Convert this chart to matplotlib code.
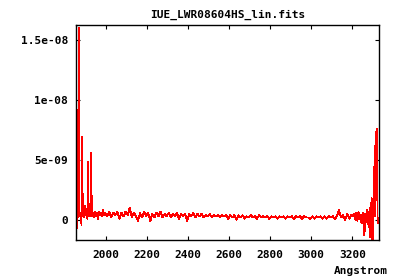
import numpy as np
import matplotlib
matplotlib.use("Agg")
import matplotlib.pyplot as plt
from matplotlib.ticker import FixedLocator, FixedFormatter

# flux in units of 1e-10 erg/s/cm2/A
# blue end, spikes kept at their own wavelengths
wave_left = [1855, 1858, 1860, 1862, 1864, 1866, 1868, 1870, 1874, 1877,
             1880, 1883, 1886, 1890, 1894, 1898, 1901, 1905, 1908, 1912,
             1915, 1919, 1923, 1927, 1930, 1935, 1940, 1945, 1950, 1955,
             1960, 1965, 1970, 1975, 1980, 1985, 1990]
flux_left = [5, 3, -7, 92, 2, 6, 160, 3, 6, 2,
             -4, 69, 4, 6, 2, 12, 4, 6, 1, 48,
             5, 3, 7, 56, 3, 6, 2, 7, 3, 6,
             1, 7, 4, 6, 3, 8, 4]

# middle of the spectrum, 10 A steps from 1995 to 3195
wave_mid = np.arange(1995, 3200, 10)
flux_mid = [6, 3, 7, 2, 6, 4, 7, 1, 6, 3, 7,
            4, 10, 2, 6, 3, -1, 6, 2, 7, 3,
            6, -1, 5, 2, 6, 3, 7, 2, 5, 3,
            6, 2, 5, 3, 6, 1, 5, 3, 5, -1,
            5, 3, 6, 2, 5, 3, 5, 2, 4, 3,
            5, 2, 4, 3, 4, 2, 4, 3, 4, 1,
            4, 2, 4, 0, 4, 2, 4, 1, 3, 2,
            4, 2, 3, 1, 4, 2, 3, 2, 3, 1,
            3, 2, 3, 1, 3, 2, 3, 1, 3, 2,
            3, 1, 3, 2, 3, 1, 3, 2, 2, 1,
            3, 1, 3, 2, 3, 1, 3, 1, 3, 2,
            3, 1, 3, 8, 2, 4, 0, 5, 1, 4]

# red end, noisy
wave_right = [3200, 3210, 3215, 3220, 3225, 3230, 3235, 3240, 3245, 3250,
              3255, 3259, 3263, 3268, 3272, 3276, 3280, 3284, 3287, 3290,
              3294, 3297, 3300, 3303, 3306, 3309, 3312, 3316, 3320, 3323,
              3326, 3330]
flux_right = [3, 5, 0, 6, -1, 7, 1, 4, -3, 6,
              2, -13, 5, -2, 8, 0, -6, 10, -14, 4,
              18, -20, -19, 10, 44, 3, 60, 72, 76, -3,
              2, 0]

xticks = [2000, 2200, 2400, 2600, 2800, 3000, 3200]
yticks = [0, 5e-9, 1e-8, 1.5e-8]
ytick_labels = ["0", "5e-09", "1e-08", "1.5e-08"]

wave = np.concatenate([wave_left, wave_mid, wave_right])
flux = np.concatenate([flux_left, flux_mid, flux_right]) * 1e-10

plt.rcParams['font.family'] = 'DejaVu Sans Mono'
plt.rcParams['font.weight'] = 'bold'
plt.rcParams['font.size'] = 8

fig = plt.figure(figsize=(4, 2.8), dpi=100)
ax = fig.add_axes([0.191, 0.143, 0.9475 - 0.191, 0.911 - 0.143])

ax.plot(wave, flux, color='#ff0000', lw=0.6, antialiased=False)

ax.set_xlim(1855, 3330)
ax.set_ylim(-1.67e-9, 1.625e-8)

ax.xaxis.set_major_locator(FixedLocator(xticks))
ax.yaxis.set_major_locator(FixedLocator(yticks))
ax.yaxis.set_major_formatter(FixedFormatter(ytick_labels))
ax.tick_params(direction='in', length=3, width=0.8, top=True, right=True,
               colors='black', labelsize=8)
ax.tick_params(axis='x', pad=7)
ax.tick_params(axis='y', pad=6)
for lab in ax.get_xticklabels() + ax.get_yticklabels():
    lab.set_fontweight('bold')
for s in ax.spines.values():
    s.set_linewidth(1.0)

fig.text(0.57, 0.946, "IUE_LWR08604HS_lin.fits", ha='center', va='center',
         fontweight='bold', fontsize=8)
fig.text(0.97, 0.033, "Angstrom", ha='right', va='center',
         fontweight='bold', fontsize=8)

fig.savefig("out.png", dpi=100)
